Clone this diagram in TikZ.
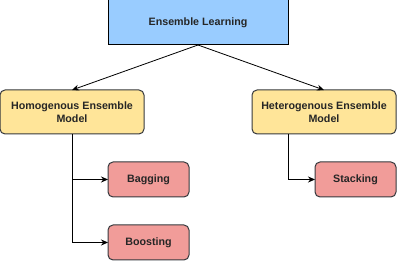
\documentclass[tikz,border=0pt]{standalone}
\usepackage{xcolor}
\usepackage{fontspec}
\setmainfont{Liberation Sans}
\usepackage{tikz}
\usetikzlibrary{arrows.meta,positioning}
\definecolor{topfill}{HTML}{99CCFF}
\definecolor{modelfill}{HTML}{FFE599}
\definecolor{methodfill}{HTML}{F19C99}
\definecolor{edge}{HTML}{36393D}

\begin{document}
\begin{tikzpicture}[x=1pt,y=-1pt, box/.style={draw=edge,line width=1pt,inner sep=1pt,outer sep=0pt,align=center,font=\fontsize{10.7}{13}\selectfont\bfseries,text=black!85}, topbox/.style={box,draw=black,fill=topfill,minimum width=180pt,minimum height=45pt}, modelbox/.style={box,fill=modelfill,rounded corners=5pt,minimum width=144pt,minimum height=44pt}, methodbox/.style={box,fill=methodfill,rounded corners=5pt,minimum width=81pt,minimum height=35pt}, arrow/.style={-{Stealth[length=7pt,width=6pt]},line width=0.8pt}]
    \useasboundingbox (0,0) rectangle (397,261);
    \node[topbox] (ens) at (198,22.5) {Ensemble Learning};
    \node[modelbox,below=45pt of ens.south,xshift=-126pt] (homo) {Homogenous Ensemble\\Model};
    \node[modelbox,below=45pt of ens.south,xshift=126pt] (hetero) {Heterogenous Ensemble\\Model};
    \coordinate (hetdrop) at ([xshift=-36pt]hetero.south);
    \node[methodbox,below right=28pt and 36pt of homo.south] (bag) {Bagging};
    \node[methodbox,below=28pt of bag] (boost) {Boosting};
    \node[methodbox,below right=28pt and 27pt of hetdrop] (stack) {Stacking};
    \draw[arrow] (ens.south) -- (homo.north);
    \draw[arrow] (ens.south) -- (hetero.north);
    \draw[arrow] (homo.south) |- (bag.west);
    \draw[arrow] (homo.south) |- (boost.west);
    \draw[arrow] (hetdrop) |- (stack.west);
  \end{tikzpicture}
\end{document}
